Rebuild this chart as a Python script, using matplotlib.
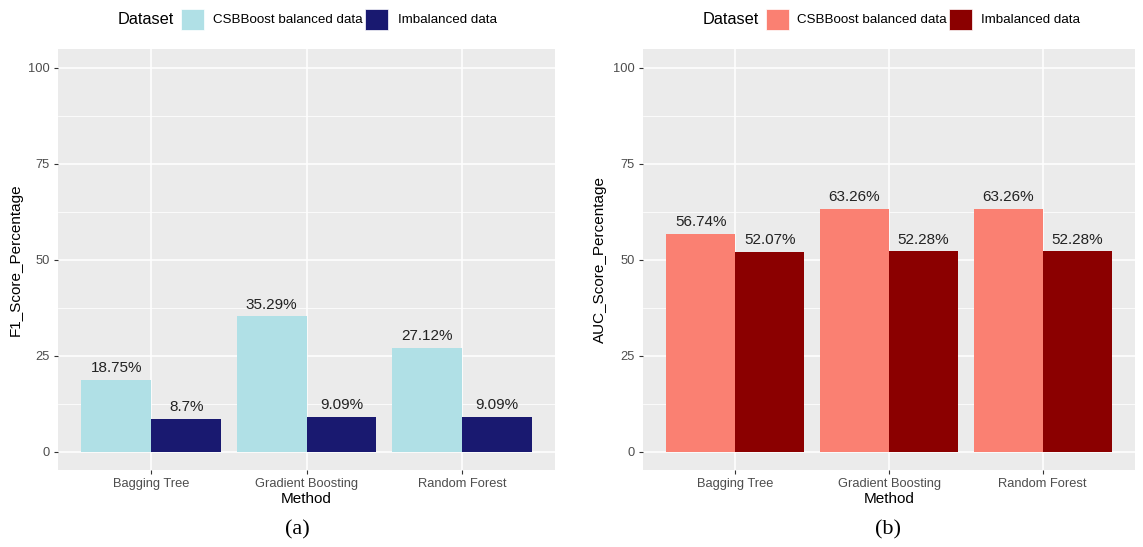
import matplotlib.pyplot as plt
from matplotlib.patches import Rectangle
from matplotlib.ticker import MultipleLocator
import numpy as np

methods = ["Bagging Tree", "Gradient Boosting", "Random Forest"]
series_names = ["CSBBoost balanced data", "Imbalanced data"]

f1_balanced = [18.75, 35.29, 27.12]
f1_imbalanced = [8.7, 9.09, 9.09]
f1_labels_bal = ["18.75%", "35.29%", "27.12%"]
f1_labels_imb = ["8.7%", "9.09%", "9.09%"]

auc_balanced = [56.74, 63.26, 63.26]
auc_imbalanced = [52.07, 52.28, 52.28]
auc_labels_bal = ["56.74%", "63.26%", "63.26%"]
auc_labels_imb = ["52.07%", "52.28%", "52.28%"]

plt.rcParams['font.family'] = ['Liberation Sans', 'DejaVu Sans']

fig = plt.figure(figsize=(11.43, 5.47), dpi=100)
W, H = 1143, 547

def px(x0, y0, x1, y1):
    # pixel box -> figure fraction
    return [x0 / W, 1 - y1 / H, (x1 - x0) / W, (y1 - y0) / H]

def panel(box, bal, imb, lab_bal, lab_imb, colors, ylabel):
    ax = fig.add_axes(px(*box))
    ax.set_facecolor("#EBEBEB")
    x = np.arange(1, len(methods) + 1)
    w = 0.45
    ax.bar(x - w / 2, bal, width=w, color=colors[0], zorder=3)
    ax.bar(x + w / 2, imb, width=w, color=colors[1], zorder=3)
    for xi, v, t in zip(x - w / 2, bal, lab_bal):
        ax.text(xi, v + 1.2, t, ha="center", va="bottom", fontsize=11, color="#222222", zorder=4)
    for xi, v, t in zip(x + w / 2, imb, lab_imb):
        ax.text(xi, v + 1.2, t, ha="center", va="bottom", fontsize=11, color="#222222", zorder=4)
    ax.set_xlim(0.4, 3.6)
    ax.set_ylim(-4.7, 104.9)
    ax.yaxis.set_major_locator(MultipleLocator(25))
    ax.yaxis.set_minor_locator(MultipleLocator(12.5))
    ax.set_xticks(x)
    ax.set_xticklabels(methods)
    ax.grid(which="major", color="white", linewidth=1.1, zorder=0)
    ax.grid(which="minor", axis="y", color="white", linewidth=0.55, zorder=0)
    ax.tick_params(which="minor", length=0)
    ax.tick_params(which="major", length=3, color="#333333", labelcolor="#4D4D4D", labelsize=9.3, pad=3)
    for s in ax.spines.values():
        s.set_visible(False)
    ax.set_xlabel("Method", fontsize=11, color="black", labelpad=1)
    ax.set_ylabel(ylabel, fontsize=11, color="black", labelpad=4)
    return ax

panel((58, 49, 555, 470), f1_balanced, f1_imbalanced, f1_labels_bal, f1_labels_imb,
      ["#B0E0E6", "#191970"], "F1_Score_Percentage")
panel((643, 49, 1135, 470), auc_balanced, auc_imbalanced, auc_labels_bal, auc_labels_imb,
      ["#FA8072", "#8B0000"], "AUC_Score_Percentage")

# legends across the top of each panel
def legend(x_title, keys, colors):
    fig.text(x_title / W, 1 - 20 / H, "Dataset", fontsize=11.8, color="black", va="center")
    for (kx, lx), c, name in zip(keys, colors, series_names):
        fig.patches.append(Rectangle((kx / W, 1 - 30 / H), 23 / W, 21 / H,
                                     transform=fig.transFigure, facecolor=c, edgecolor="white", lw=0.5))
        fig.text(lx / W, 1 - 20 / H, name, fontsize=9.6, color="black", va="center")

legend(118, [(181, 213), (365, 398)], ["#B0E0E6", "#191970"])
legend(703, [(766, 797), (949, 981)], ["#FA8072", "#8B0000"])

fig.text(297 / W, 1 - 530 / H, "(a)", fontsize=16, family="Liberation Serif", ha="center", va="center")
fig.text(888 / W, 1 - 530 / H, "(b)", fontsize=16, family="Liberation Serif", ha="center", va="center")

fig.savefig("out.png", dpi=100)
